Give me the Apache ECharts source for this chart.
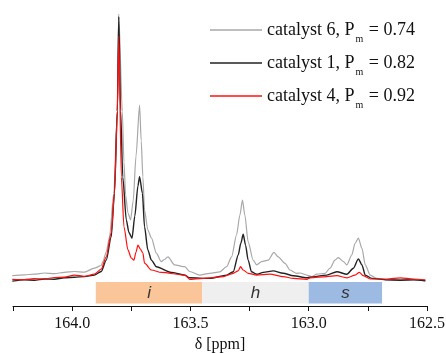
<!DOCTYPE html>
<html>
<head>
<meta charset="utf-8">
<script src="https://cdn.jsdelivr.net/npm/echarts@6/dist/echarts.min.js"></script>
<style>
  html, body { margin: 0; padding: 0; background: #fff; }
  #chart { width: 446px; height: 353px; }
</style>
</head>
<body>
<div id="chart"></div>
<script>
  // spectra: [delta ppm, intensity (arb.)]
  const cat6 = [
    [164.253, 10.1], [164.202, 10.4], [164.160, 10.6], [164.117, 11.0], [164.075, 10.8],
    [164.033, 11.2], [163.990, 11.5], [163.948, 11.3], [163.906, 12.6], [163.877, 13.5],
    [163.870, 14.8], [163.856, 18.0], [163.842, 23.0], [163.824, 37.6], [163.809, 65.0],
    [163.803, 97.3], [163.788, 65.0], [163.781, 48.0], [163.774, 37.0], [163.764, 31.0],
    [163.753, 28.7], [163.742, 35.0], [163.730, 50.0], [163.715, 67.0], [163.708, 55.0],
    [163.701, 43.0], [163.694, 32.0], [163.680, 25.3], [163.665, 22.7], [163.644, 17.6],
    [163.623, 14.8], [163.610, 15.5], [163.595, 16.4], [163.567, 13.7], [163.524, 13.1],
    [163.503, 11.5], [163.461, 10.3], [163.418, 10.9], [163.376, 11.4], [163.347, 13.1],
    [163.326, 16.4], [163.305, 23.7], [163.291, 30.3], [163.280, 35.3], [163.270, 30.3],
    [163.256, 21.4], [163.235, 15.3], [163.220, 13.7], [163.199, 14.8], [163.171, 15.3],
    [163.147, 17.9], [163.129, 16.4], [163.100, 14.2], [163.079, 12.0], [163.051, 10.9],
    [163.037, 11.0], [163.008, 10.3], [162.987, 9.8], [162.966, 10.6], [162.931, 10.9],
    [162.910, 12.6], [162.889, 15.3], [162.875, 16.1], [162.853, 14.8], [162.839, 13.7],
    [162.818, 17.0], [162.804, 20.9], [162.790, 22.6], [162.775, 19.2], [162.761, 13.7],
    [162.740, 10.3], [162.712, 9.2], [162.669, 8.7], [162.613, 8.7], [162.557, 8.8],
    [162.507, 8.4]
  ]
  const cat1 = [
    [164.253, 8.3], [164.202, 8.7], [164.160, 8.6], [164.117, 9.0], [164.075, 8.9],
    [164.033, 9.4], [163.990, 9.6], [163.948, 9.8], [163.906, 10.3], [163.877, 11.5],
    [163.856, 15.3], [163.835, 23.0], [163.821, 37.6], [163.809, 65.0], [163.803, 96.5],
    [163.795, 65.0], [163.786, 43.0], [163.771, 28.7], [163.760, 24.5], [163.747, 22.6],
    [163.735, 30.0], [163.722, 40.0], [163.715, 43.1], [163.703, 37.6], [163.694, 26.4],
    [163.680, 18.7], [163.665, 15.3], [163.644, 13.1], [163.581, 11.2], [163.524, 10.3],
    [163.503, 9.4], [163.418, 9.2], [163.347, 10.3], [163.319, 11.4], [163.298, 17.0],
    [163.287, 20.9], [163.277, 23.9], [163.267, 20.3], [163.256, 15.3], [163.242, 11.4],
    [163.220, 10.6], [163.192, 11.2], [163.150, 11.7], [163.108, 10.9], [163.065, 10.1],
    [163.008, 9.4], [162.994, 9.6], [162.924, 10.3], [162.881, 11.4], [162.839, 10.6],
    [162.811, 12.6], [162.790, 15.7], [162.775, 13.7], [162.761, 10.3], [162.733, 9.2],
    [162.669, 8.7], [162.613, 8.6], [162.557, 8.7], [162.507, 8.4]
  ]
  const cat4 = [
    [164.253, 8.9], [164.202, 8.8], [164.160, 9.1], [164.117, 9.0], [164.075, 9.5],
    [164.033, 9.6], [163.990, 10.3], [163.948, 9.9], [163.906, 10.6], [163.877, 12.3],
    [163.856, 16.4], [163.835, 24.3], [163.821, 37.6], [163.809, 65.0], [163.803, 90.0],
    [163.792, 43.0], [163.781, 26.4], [163.764, 18.7], [163.750, 16.0], [163.739, 15.3],
    [163.730, 18.0], [163.722, 20.3], [163.712, 19.0], [163.701, 17.6], [163.694, 14.3],
    [163.665, 12.0], [163.623, 11.2], [163.524, 10.3], [163.503, 8.9], [163.418, 9.4],
    [163.362, 9.8], [163.319, 10.9], [163.298, 11.7], [163.288, 13.1], [163.277, 12.0],
    [163.256, 10.9], [163.220, 10.3], [163.164, 10.6], [163.108, 9.8], [163.065, 9.2],
    [163.008, 8.9], [162.994, 9.4], [162.924, 9.8], [162.881, 10.1], [162.839, 9.4],
    [162.804, 10.3], [162.786, 11.2], [162.769, 10.1], [162.740, 9.0], [162.669, 9.0],
    [162.613, 9.4], [162.557, 9.0], [162.507, 8.7]
  ]

  const seriesNames = ['catalyst 6', 'catalyst 1', 'catalyst 4']
  const pmValues = ['0.74', '0.82', '0.92']
  const lineColors = ['#a8a8a8', '#222222', '#ff1010']

  // tacticity regions under the peaks
  const bandNames = ['i', 'h', 's']
  const bandEdges = [163.9, 163.45, 163.0, 162.69]
  const bandColors = ['#fbc59a', '#efefef', '#9dbae2']
  const bandBottom = 0.8
  const bandTop = 8

  const serif = 'Liberation Serif'

  const chart = echarts.init(document.getElementById('chart'))

  const bands = bandNames.map((n, i) => [
    { name: n, xAxis: bandEdges[i], yAxis: bandBottom, itemStyle: { color: bandColors[i] } },
    { xAxis: bandEdges[i + 1], yAxis: bandTop }
  ])

  const spectra = [cat6, cat1, cat4]
  const series = spectra.map((d, i) => ({
    name: seriesNames[i],
    type: 'line',
    data: d,
    symbol: 'none',
    smooth: 0.25,
    smoothMonotone: 'x',
    z: 3 + i,
    lineStyle: { color: lineColors[i], width: i === 1 ? 1.4 : 1.2 },
    itemStyle: { color: lineColors[i] }
  }))
  series[0].markArea = {
    silent: true,
    data: bands,
    label: {
      show: true,
      position: 'inside',
      fontStyle: 'italic',
      fontFamily: 'Liberation Sans',
      fontSize: 17,
      color: '#333'
    }
  }

  chart.setOption({
    animation: false,
    backgroundColor: '#fff',
    grid: { left: 13, right: 19, top: 6, bottom: 47, outerBoundsMode: 'none' },
    legend: {
      orient: 'vertical',
      left: 210,
      top: 16,
      padding: 0,
      icon: 'rect',
      itemWidth: 52,
      itemHeight: 1.6,
      itemGap: 5,
      data: seriesNames,
      formatter: function (name) {
        const k = seriesNames.indexOf(name)
        return '{t|' + name + ', P}{s|m}{t| = ' + pmValues[k] + '}'
      },
      textStyle: {
        rich: {
          t: { fontFamily: serif, fontSize: 18, color: '#111', lineHeight: 20 },
          s: { fontFamily: serif, fontSize: 10, color: '#111', lineHeight: 10, padding: [18, 1, 0, 1] }
        }
      }
    },
    xAxis: {
      type: 'value',
      min: 162.5,
      max: 164.25,
      interval: 0.5,
      inverse: true,
      name: 'δ [ppm]',
      nameLocation: 'middle',
      nameGap: 31,
      nameTextStyle: { fontFamily: serif, fontSize: 16, color: '#111' },
      axisLine: { lineStyle: { color: '#111', width: 1 } },
      axisTick: { show: true, length: 5, lineStyle: { color: '#111' } },
      minorTick: { show: true, splitNumber: 2, length: 5, lineStyle: { color: '#111' } },
      splitLine: { show: false },
      axisLabel: {
        margin: 10,
        showMaxLabel: false,
        fontFamily: serif,
        fontSize: 16,
        color: '#111',
        formatter: v => v.toFixed(1)
      }
    },
    yAxis: {
      type: 'value',
      min: 0,
      max: 100,
      show: false
    },
    series: series
  })
</script>
</body>
</html>
